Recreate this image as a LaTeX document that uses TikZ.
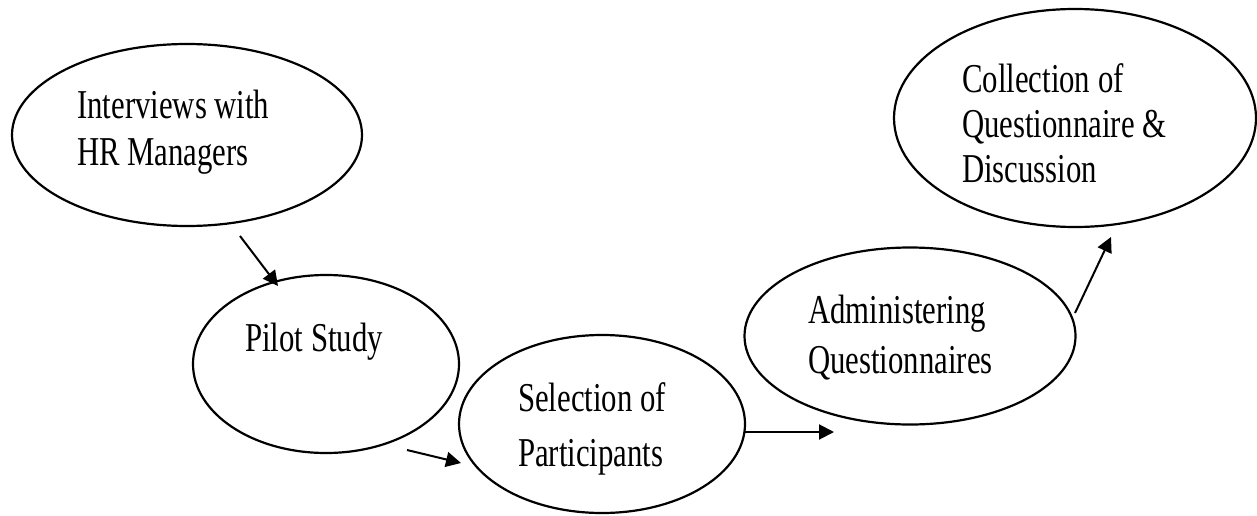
\documentclass[tikz,border=0pt]{standalone}
\usepackage{fontspec}
\setmainfont{Liberation Serif}[FakeStretch=0.75]
\usetikzlibrary{shapes.geometric,arrows.meta}
\begin{document}
\begin{tikzpicture}[x=1pt,y=-1pt,
  bubble/.style={draw,line width=2.2pt,ellipse,inner sep=0pt},
  lbl/.style={anchor=north west,inner sep=0pt,align=left},
  arr/.style={line width=2pt,-{Triangle[length=15pt,width=15pt]}}]
\useasboundingbox[fill=white] (0,0) rectangle (1257,516);
% ellipses
\node[bubble,minimum width=350pt,minimum height=182pt] (e1) at (187,135) {};
\node[bubble,minimum width=266pt,minimum height=178pt] (e2) at (326,364) {};
\node[bubble,minimum width=286pt,minimum height=178pt] (e3) at (602,424) {};
\node[bubble,minimum width=331pt,minimum height=177pt] (e4) at (910,336) {};
\node[bubble,minimum width=362pt,minimum height=218pt] (e5) at (1075,118) {};
% labels
\node[lbl,font=\fontsize{41}{47}\selectfont] (t1) at (77,90) {Interviews with\\HR Managers};
\node[lbl,font=\fontsize{41}{47}\selectfont] (t2) at (245,323) {Pilot Study};
\node[lbl,font=\fontsize{41}{55}\selectfont] (t3) at (518,382) {Selection of\\Participants};
\node[lbl,font=\fontsize{41}{50}\selectfont] (t4) at (808,295) {Administering\\Questionnaires};
\node[lbl,font=\fontsize{41}{45}\selectfont] (t5) at (962,63) {Collection of\\Questionnaire \&\\Discussion};
% connector ends
\coordinate (a1s) at (240,236);
\coordinate (a1e) at (278,286);
\coordinate (a2s) at (407,450);
\coordinate (a2e) at (461,463);
\coordinate (a3s) at (745,432);
\coordinate (a3e) at (834,432);
\coordinate (a4s) at (1075,313);
\coordinate (a4e) at (1111,237);
\draw[arr] (a1s) -- (a1e);
\draw[arr] (a2s) -- (a2e);
\draw[arr] (a3s) -- (a3e);
\draw[arr] (a4s) -- (a4e);
\end{tikzpicture}
\end{document}
